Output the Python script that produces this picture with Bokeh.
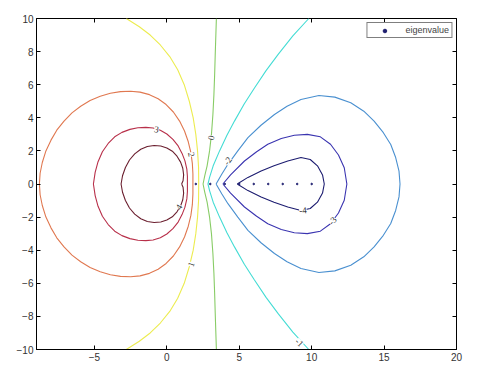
from bokeh.plotting import figure
from bokeh.models import Range1d, LinearAxis, FixedTicker, ColumnDataSource, LabelSet
from bokeh.embed import file_html
from bokeh.resources import INLINE

# ---- data (upper halves; contours are symmetric about y=0) ----
# closed contours on the left (start at right end on y=0, go round to left end on y=0)
x_l4 = [1.02, 1.12, 1.16, 1.10, 0.95, 0.70, 0.38, 0.00, -0.42, -0.88, -1.35, -1.80, -2.22, -2.58, -2.86, -3.06, -3.16]
y_l4 = [0.00, 0.20, 0.55, 0.95, 1.32, 1.68, 1.98, 2.18, 2.30, 2.33, 2.27, 2.10, 1.82, 1.45, 1.00, 0.50, 0.00]

x_l3 = [1.42, 1.42, 1.38, 1.25, 1.05, 0.78, 0.42, 0.00, -0.45, -0.95, -1.45, -2.00, -2.55, -3.10, -3.60, -4.05, -4.45, -4.75, -4.95, -5.07]
y_l3 = [0.00, 0.45, 0.90, 1.40, 1.85, 2.30, 2.70, 3.02, 3.25, 3.38, 3.42, 3.40, 3.30, 3.12, 2.85, 2.45, 1.95, 1.35, 0.70, 0.00]

x_l2 = [1.80, 1.80, 1.76, 1.66, 1.48, 1.22, 0.88, 0.45, -0.05, -0.60, -1.20, -1.85, -2.50, -3.20, -3.90, -4.60, -5.30, -5.95, -6.55, -7.10, -7.60, -8.00, -8.35, -8.60, -8.75, -8.80]
y_l2 = [0.00, 0.60, 1.25, 1.90, 2.55, 3.20, 3.80, 4.35, 4.80, 5.15, 5.40, 5.55, 5.60, 5.58, 5.48, 5.30, 5.05, 4.70, 4.30, 3.80, 3.25, 2.65, 2.00, 1.30, 0.65, 0.00]

# open contours (from y=0 up to the top edge)
x_l1 = [2.20, 2.19, 2.12, 2.00, 1.82, 1.55, 1.20, 0.75, 0.20, -0.45, -1.15, -1.90, -2.80]
y_l1 = [0.00, 1.00, 2.00, 3.00, 4.00, 5.00, 6.00, 6.90, 7.70, 8.40, 9.00, 9.50, 10.0]

x_l0 = [2.50, 2.62, 2.78, 2.95, 3.08, 3.18, 3.25, 3.30, 3.34, 3.38, 3.42]
y_l0 = [0.00, 0.50, 1.10, 2.00, 3.00, 4.20, 5.40, 6.60, 7.80, 8.90, 10.0]

x_m1 = [2.84, 2.95, 3.20, 3.64, 4.15, 4.67, 5.35, 6.05, 6.85, 7.70, 8.70, 9.80]
y_m1 = [0.00, 0.40, 1.10, 2.00, 2.95, 3.80, 4.85, 5.80, 6.85, 7.85, 8.95, 10.0]

# closed contours on the right (start at left tip on y=0, go to right end on y=0)
x_m2 = [3.40, 3.80, 4.22, 4.90, 5.60, 6.50, 7.43, 8.30, 9.26, 10.50, 11.60, 12.70, 13.60, 14.31, 14.95, 15.46, 15.80, 16.03, 16.10]
y_m2 = [0.00, 0.60, 1.19, 2.00, 2.80, 3.55, 4.20, 4.70, 5.11, 5.35, 5.25, 4.91, 4.40, 3.80, 3.10, 2.39, 1.60, 0.78, 0.00]

x_m3 = [3.87, 4.40, 5.36, 6.20, 6.97, 7.90, 8.80, 9.70, 10.60, 11.30, 11.85, 12.25, 12.43]
y_m3 = [0.00, 0.55, 1.39, 1.95, 2.40, 2.75, 2.95, 3.00, 2.85, 2.40, 1.75, 0.98, 0.00]

x_m4 = [4.86, 5.60, 6.51, 7.40, 8.35, 9.26, 9.90, 10.40, 10.75, 10.87]
y_m4 = [0.00, 0.40, 0.78, 1.10, 1.39, 1.60, 1.48, 1.10, 0.55, 0.00]

# eigenvalues
eig_re = [2, 3, 4, 5, 6, 7, 8, 9, 10]
eig_im = [0, 0, 0, 0, 0, 0, 0, 0, 0]

# contour labels
lab_text = ["4", "3", "2", "1", "0", "-1", "-2", "-3", "-4"]
lab_x = [0.85, -0.72, 1.69, 1.69, 3.07, 9.15, 4.20, 11.44, 9.40]
lab_y = [-1.39, 3.30, 1.79, -4.85, 2.80, -9.58, 1.40, -2.23, -1.60]
lab_angle = [60, -10, -80, 70, 80, -45, 54, 48, 5]

x_ticks = [-5, 0, 5, 10, 15, 20]
y_ticks = [-10, -8, -6, -4, -2, 0, 2, 4, 6, 8, 10]

level_colors = {
    4: "#6b1f2f", 3: "#b8304a", 2: "#e07850", 1: "#ecec50", 0: "#88cc66",
    -1: "#44dcd4", -2: "#4a90d0", -3: "#3a34b0", -4: "#1c1c70",
}


def closed(xs, ys):
    return xs + xs[::-1][1:], ys + [-v for v in ys[::-1]][1:]


def opened(xs, ys):
    return xs[::-1] + xs[1:], [-v for v in ys[::-1]] + ys[1:]


curves = {
    4: closed(x_l4, y_l4), 3: closed(x_l3, y_l3), 2: closed(x_l2, y_l2),
    1: opened(x_l1, y_l1), 0: opened(x_l0, y_l0), -1: opened(x_m1, y_m1),
    -2: closed(x_m2, y_m2), -3: closed(x_m3, y_m3), -4: closed(x_m4, y_m4),
}

p = figure(frame_width=420, frame_height=331, output_backend="svg", toolbar_location=None,
           x_range=Range1d(-9, 20), y_range=Range1d(-10, 10),
           min_border_left=36, min_border_top=18, min_border_right=14, min_border_bottom=16)
p.grid.visible = False
p.outline_line_color = "black"
p.outline_line_width = 1
p.background_fill_color = "white"
p.border_fill_color = "white"

for lev, (xs, ys) in curves.items():
    p.line(xs, ys, line_color=level_colors[lev], line_width=1.1)

src = ColumnDataSource(dict(x=lab_x, y=lab_y, t=lab_text, a=lab_angle))
p.add_layout(LabelSet(x="x", y="y", text="t", angle="a", angle_units="deg", source=src,
                      text_font="Liberation Sans", text_font_size="9px", text_color="#333333",
                      text_align="center", text_baseline="middle",
                      background_fill_color="white"))

p.scatter(eig_re, eig_im, size=1.6, color="#202070", legend_label="eigenvalue")

lg = p.legend[0]
lg.location = "top_right"
lg.margin = 4
lg.padding = 2
lg.spacing = 0
lg.label_text_font = "Liberation Sans"
lg.label_text_font_size = "9px"
lg.label_height = 9
lg.glyph_height = 9
lg.glyph_width = 30
lg.label_standoff = 6
lg.border_line_color = "black"
lg.border_line_width = 1
lg.background_fill_alpha = 1.0

for ax, ticks in ((p.xaxis[0], x_ticks), (p.yaxis[0], y_ticks)):
    ax.ticker = FixedTicker(ticks=ticks)
    ax.major_tick_in = 4
    ax.major_tick_out = 0
    ax.minor_tick_line_color = None
    ax.axis_line_color = "black"
    ax.major_tick_line_color = "black"
    ax.major_label_text_font = "Liberation Sans"
    ax.major_label_text_font_size = "10px"
    ax.major_label_text_color = "#333333"
    ax.major_label_standoff = 3

for loc, ticks in (("above", x_ticks), ("right", y_ticks)):
    ax = LinearAxis(ticker=FixedTicker(ticks=ticks))
    ax.major_tick_in = 4
    ax.major_tick_out = 0
    ax.minor_tick_line_color = None
    ax.major_label_text_font_size = "1px"
    ax.major_label_text_color = None
    ax.major_label_standoff = 0
    ax.axis_line_color = None
    p.add_layout(ax, loc)

open("out.html", "w").write(file_html(p, INLINE))
